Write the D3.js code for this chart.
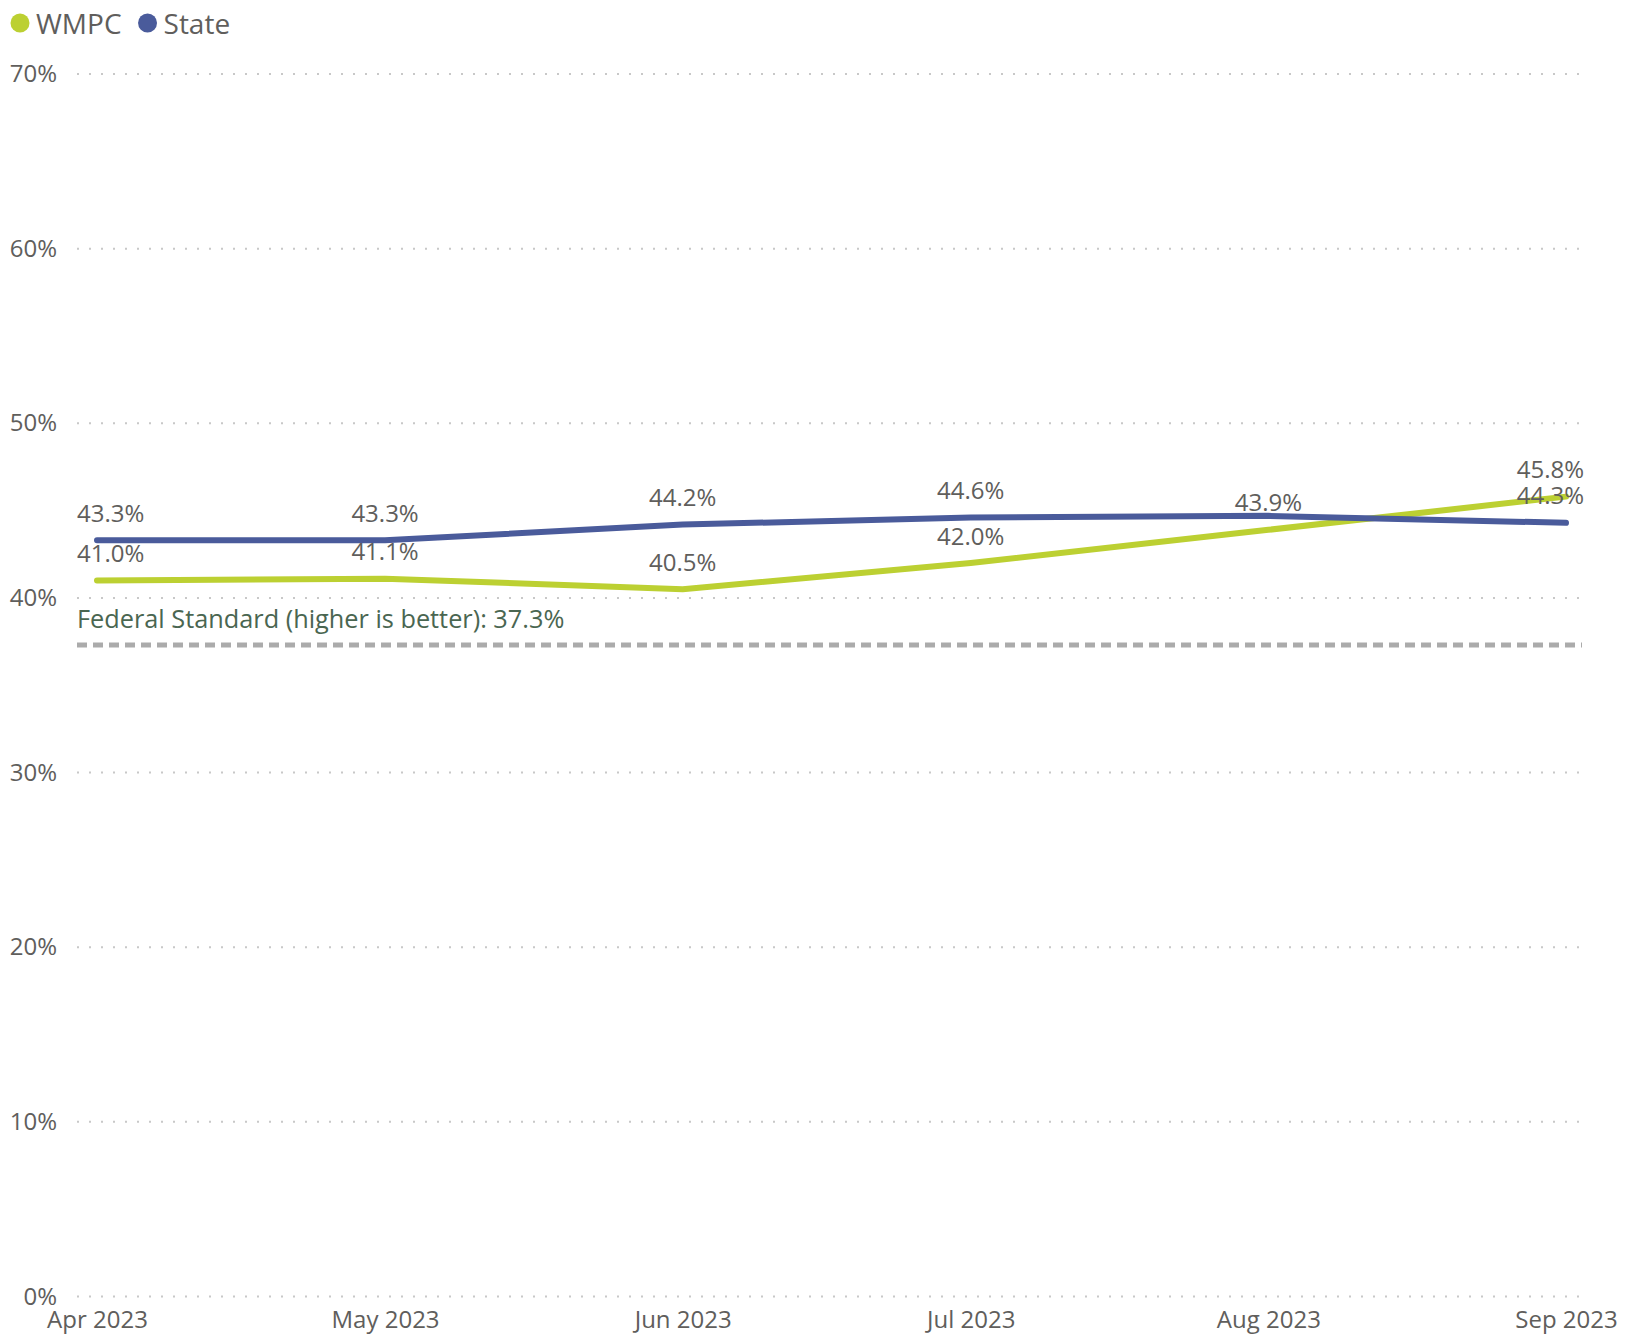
<!DOCTYPE html>
<html>
<head>
<meta charset="utf-8">
<script src="https://cdn.jsdelivr.net/npm/d3@7"></script>
<style>
  html, body { margin: 0; padding: 0; background: #fff; }
  svg { display: block; font-family: "Segoe UI", "Open Sans", sans-serif; }
</style>
</head>
<body>
<svg id="chart" width="1632" height="1335"></svg>
<script>
// ---- data ----
const months = ["2023-04-01", "2023-05-01", "2023-06-01", "2023-07-01", "2023-08-01", "2023-09-01"];
const monthLabels = ["Apr 2023", "May 2023", "Jun 2023", "Jul 2023", "Aug 2023", "Sep 2023"];
const wmpcValues = [41.0, 41.1, 40.5, 42.0, 43.9, 45.8];
const stateValues = [43.3, 43.3, 44.2, 44.6, 44.7, 44.3];
const seriesNames = ["WMPC", "State"];
const yTicks = [0, 10, 20, 30, 40, 50, 60, 70];
const federalStandard = 37.3;
const federalLabel = "Federal Standard (higher is better): 37.3%";

// ---- layout ----
const plotLeft = 77, plotRight = 1582;
const colors = { WMPC: "#BCD032", State: "#4A5B9B" };
const textGray = "#605E5C";

const svg = d3.select("#chart");
const parse = d3.timeParse("%Y-%m-%d");
const dates = months.map(parse);

const x = d3.scaleTime().domain([dates[0], dates[dates.length - 1]]).range([97, 1566]);
const y = d3.scaleLinear().domain([0, 70]).range([1296.5, 74]);

// gridlines
svg.append("g").selectAll("line").data(yTicks).join("line")
  .attr("x1", plotLeft).attr("x2", plotRight)
  .attr("y1", d => y(d)).attr("y2", d => y(d))
  .attr("stroke", "#C8C8C8").attr("stroke-width", 2)
  .attr("stroke-dasharray", "2,10");

// y axis
const yAxis = d3.axisLeft(y).tickValues(yTicks).tickFormat(d => d + "%").tickSize(0);
const gy = svg.append("g").attr("transform", "translate(60,0)").call(yAxis);
gy.select(".domain").remove();
gy.selectAll("text").attr("fill", textGray).attr("font-size", 24)
  .attr("font-family", "\"Segoe UI\", \"Open Sans\", sans-serif").attr("dx", 0);

// x axis
const xAxis = d3.axisBottom(x).tickValues(dates).tickFormat((d, i) => monthLabels[i]).tickSize(0);
const gx = svg.append("g").attr("transform", "translate(0,1308)").call(xAxis);
gx.select(".domain").remove();
gx.selectAll("text").attr("fill", textGray).attr("font-size", 24)
  .attr("font-family", "\"Segoe UI\", \"Open Sans\", sans-serif").attr("dy", "0.71em");

// federal standard
svg.append("line")
  .attr("x1", plotLeft).attr("x2", plotRight)
  .attr("y1", y(federalStandard)).attr("y2", y(federalStandard))
  .attr("stroke", "#ABABAB").attr("stroke-width", 5).attr("stroke-dasharray", "10,6");
svg.append("text")
  .attr("x", plotLeft).attr("y", y(federalStandard) - 17)
  .attr("fill", "#4A6651").attr("font-size", 25.3)
  .text(federalLabel);

// lines
const series = [
  { name: "WMPC", values: wmpcValues },
  { name: "State", values: stateValues }
];
const line = d3.line().x((d, i) => x(dates[i])).y(d => y(d));
svg.append("g").selectAll("path").data(series).join("path")
  .attr("d", s => line(s.values))
  .attr("fill", "none")
  .attr("stroke", s => colors[s.name])
  .attr("stroke-width", 6)
  .attr("stroke-linecap", "round")
  .attr("stroke-linejoin", "round");

// data labels (WMPC first, State skipped when colliding)
const labelG = svg.append("g");
const placed = [];
series.forEach(s => {
  s.values.forEach((v, i) => {
    const cx = x(dates[i]);
    const cy = y(v) - 28;
    if (placed.some(p => Math.abs(p.x - cx) < 40 && Math.abs(p.y - cy) < 22)) return;
    const t = labelG.append("text")
      .attr("x", cx).attr("y", cy)
      .attr("text-anchor", "middle").attr("dominant-baseline", "central")
      .attr("fill", textGray).attr("font-size", 24)
      .text(v.toFixed(1) + "%");
    const w = t.node().getComputedTextLength();
    let left = cx - w / 2;
    if (left < plotLeft) left = plotLeft;
    if (left + w > 1584) left = 1584 - w;
    t.attr("x", left + w / 2);
    placed.push({ x: cx, y: cy });
  });
});

// legend
const legend = svg.append("g");
let lx = 20;
seriesNames.forEach(n => {
  legend.append("circle").attr("cx", lx).attr("cy", 23).attr("r", 9.5).attr("fill", colors[n]);
  const t = legend.append("text").attr("x", lx + 16).attr("y", 23)
    .attr("dominant-baseline", "central").attr("font-size", 28).attr("fill", textGray).text(n);
  lx += 16 + t.node().getComputedTextLength() + 26;
});
</script>
</body>
</html>
